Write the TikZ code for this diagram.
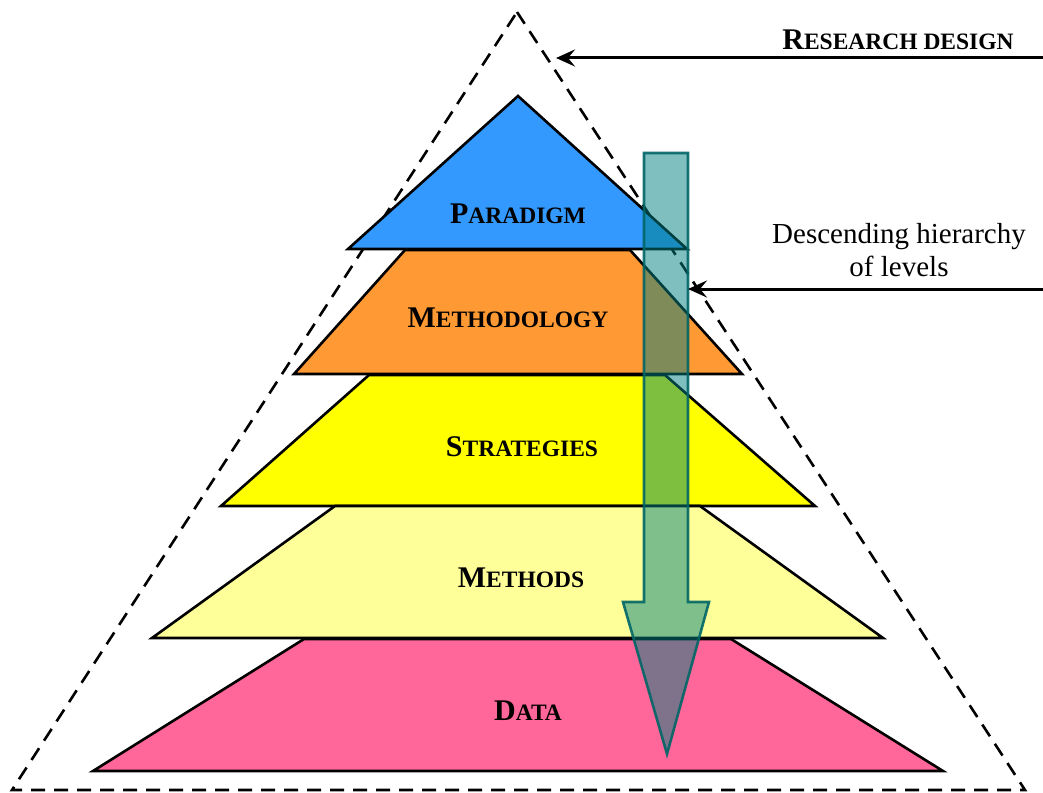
\documentclass[tikz,border=0pt]{standalone}
\usepackage{fontspec}
\setmainfont{Liberation Serif}
\usetikzlibrary{arrows.meta}

% bold small capitals: full-size initial, reduced capitals after it
\newcommand{\boldsc}[2]{\textbf{{\fontsize{30}{30}\selectfont #1}{\fontsize{23.5}{24}\selectfont #2}}}

\definecolor{paradigmblue}{HTML}{3399FF}
\definecolor{methodorange}{HTML}{FF9933}
\definecolor{stratyellow}{HTML}{FFFF00}
\definecolor{methodsyellow}{HTML}{FFFF99}
\definecolor{datapink}{HTML}{FF6699}
\definecolor{arrowteal}{HTML}{008080}
\definecolor{arrowedge}{HTML}{006666}

\tikzset{
  layer/.style={draw=black, line width=2.6pt, line join=miter},
  outline/.style={draw=black, line width=2.6pt, dash pattern=on 14pt off 9pt},
  levellabel/.style={anchor=base, inner sep=0pt},
  pointer/.style={draw=black, line width=3pt,
    -{Stealth[length=19pt,width=17pt,inset=7pt]}},
  bigarrow/.style={fill=arrowteal, fill opacity=0.5, draw=arrowedge,
    draw opacity=0.9, line width=2.6pt, line join=miter}
}

\begin{document}
\begin{tikzpicture}[x=1pt, y=-1pt]
  \useasboundingbox (0,0) rectangle (1043,792);

  % dashed outline of the research design
  \draw[outline] (517,12) -- (1025,790) -- (12,790) -- cycle;

  % pyramid levels, top to bottom
  \path[layer, fill=paradigmblue] (518,96) -- (687,249) -- (348,249) -- cycle;
  \path[layer, fill=methodorange] (405,250) -- (630,250) -- (742,374) -- (294,374) -- cycle;
  \path[layer, fill=stratyellow] (369,375) -- (665,375) -- (815,506) -- (221,506) -- cycle;
  \path[layer, fill=methodsyellow] (335,506) -- (700,506) -- (883,638) -- (152,638) -- cycle;
  \path[layer, fill=datapink] (304,639) -- (731,639) -- (943,771) -- (93,771) -- cycle;

  % level names
  \node[levellabel] (paradigm) at (518,223) {\boldsc{P}{ARADIGM}};
  \node[levellabel] (methodology) at (508,327) {\boldsc{M}{ETHODOLOGY}};
  \node[levellabel] (strategies) at (522,456) {\boldsc{S}{TRATEGIES}};
  \node[levellabel] (methods) at (521,587) {\boldsc{M}{ETHODS}};
  \node[levellabel] (data) at (528,720) {\boldsc{D}{ATA}};

  % downward arrow through the levels
  \path[bigarrow] (644,153) -- (688,153) -- (688,602) -- (709,602)
    -- (667,754) -- (623,602) -- (644,602) -- cycle;

  % side captions and their pointers
  \node[levellabel] (design) at (898,49) {\boldsc{R}{ESEARCH DESIGN}};
  \node[inner sep=0pt, align=center, font=\fontsize{29}{33}\selectfont]
    (hierarchy) at (899,250) {Descending hierarchy\\of levels};

  \coordinate (designstart) at (1043,58);
  \coordinate (designend) at (556,58);
  \coordinate (hierstart) at (1043,289);
  \coordinate (hierend) at (688,289);
  \draw[pointer] (designstart) -- (designend);
  \draw[pointer] (hierstart) -- (hierend);
\end{tikzpicture}
\end{document}
